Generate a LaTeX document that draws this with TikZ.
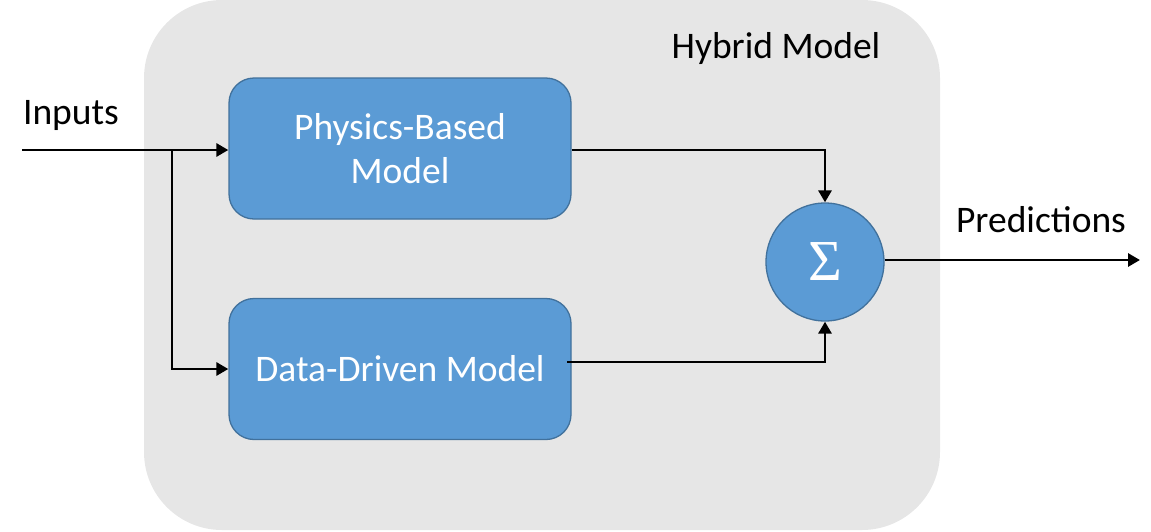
\documentclass[tikz,border=0pt]{standalone}
\usepackage{fontspec}
\setmainfont{Carlito}
\newfontfamily\sigfont{Liberation Serif}
\usetikzlibrary{arrows.meta}
\definecolor{bgray}{HTML}{E6E6E6}
\definecolor{bblue}{HTML}{5B9BD5}
\definecolor{bedge}{HTML}{41719C}
\begin{document}
\begin{tikzpicture}[x=1pt,y=-1pt,
  blk/.style={draw=bedge,line width=1.3pt,fill=bblue,rounded corners=25pt,minimum width=342pt,minimum height=141pt,text=white,font=\fontsize{37.5}{44}\selectfont,align=center,inner sep=0pt},
  con/.style={line width=2.9pt,line cap=butt,-{Triangle[length=12pt,width=13pt]}},
  lbl/.style={font=\fontsize{37.5}{44}\selectfont,inner sep=0pt}]
\useasboundingbox (0,0) rectangle (1151,531);
\fill[bgray,rounded corners=78pt] (144,0) rectangle (940,530);
\node[lbl] (hm) at (776,48) {Hybrid Model};
\node[blk] (pb) at (400,148.5) {Physics-Based\\Model};
\node[blk] (dd) at (400,369) {Data-Driven Model};
\node[circle,draw=bedge,line width=1.3pt,fill=bblue,minimum size=118pt,inner sep=0pt,text=white,font=\sigfont\fontsize{58}{58}\selectfont] (sum) at (825,262) {Σ};
\node[lbl] (in) at (71,115) {Inputs};
\node[lbl] (pr) at (1041,220) {Predictions};
\coordinate (start) at (22,150);
\coordinate (br) at (172,150);
\coordinate (out) at (1140,260);
\draw[con] (start) -- (pb.west |- start);
\draw[con] (br) -- (172,369) -- (dd.west);
\draw[con] (pb.east |- start) -| (sum.north);
\draw[con] (567,362) -| (sum.south);
\draw[con] (sum.east |- out) -- (out);
\end{tikzpicture}
\end{document}
